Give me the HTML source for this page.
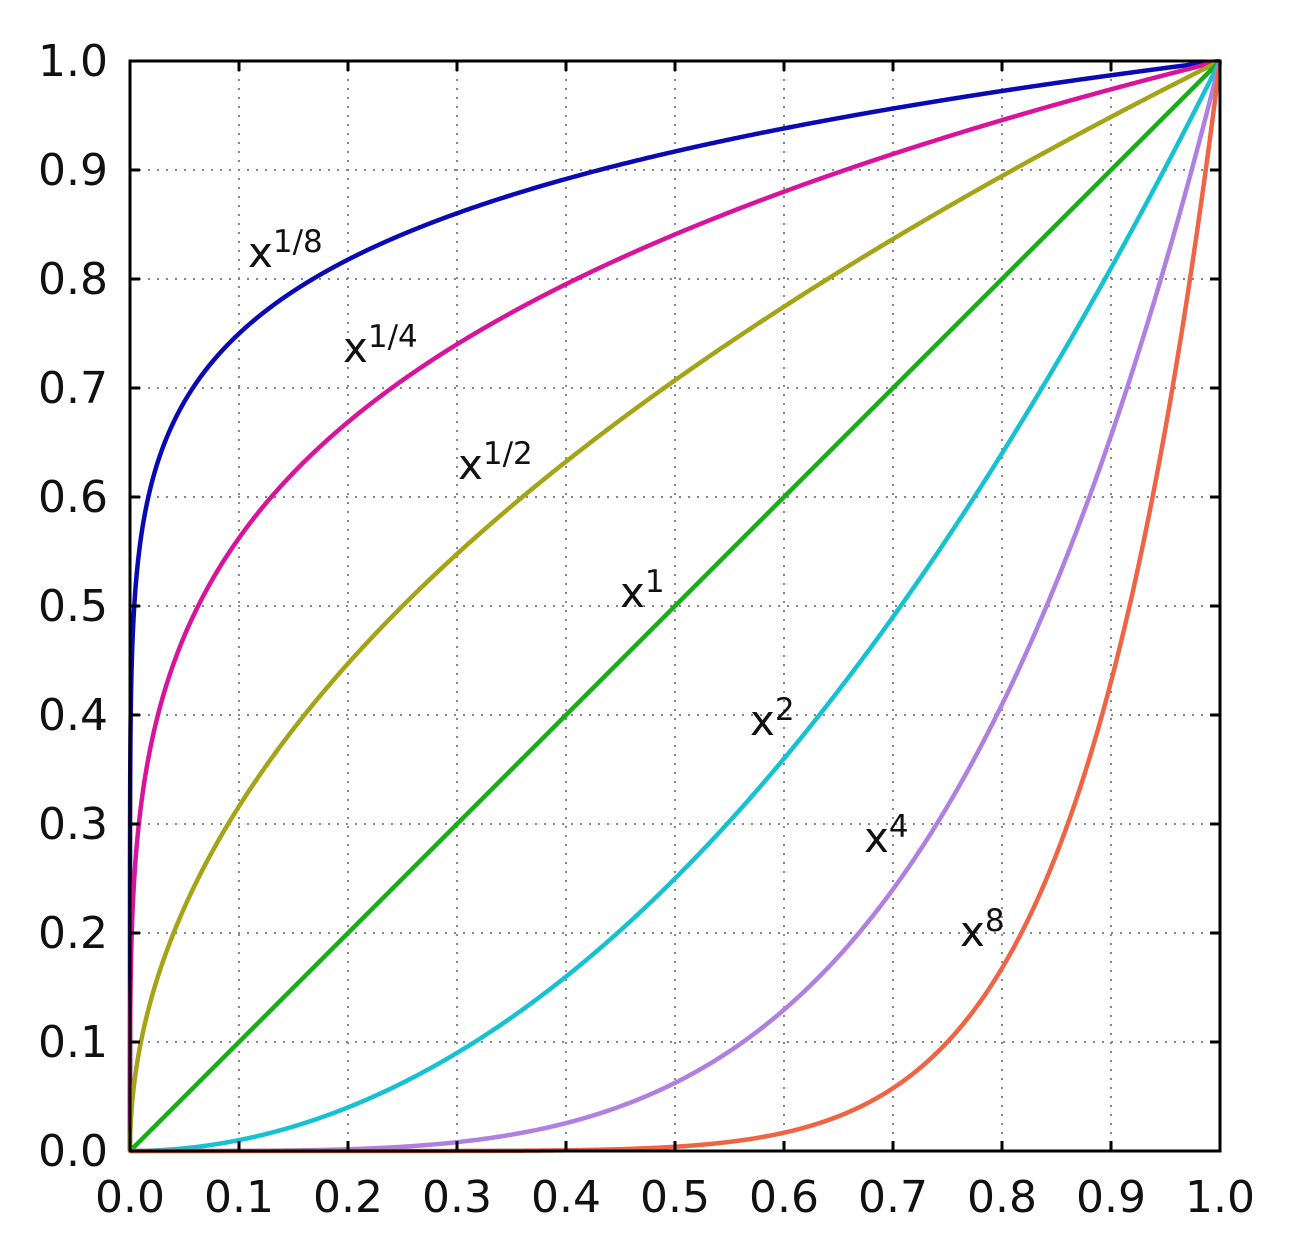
<!DOCTYPE html>
<html><head><meta charset="utf-8"><style>
html,body{margin:0;padding:0;background:#fff}
svg{display:block}
text{font-family:"DejaVu Sans","Liberation Sans",sans-serif;fill:#111}
</style></head><body>
<svg id="s" width="1290" height="1234" viewBox="0 0 1290 1234" xmlns="http://www.w3.org/2000/svg">
<g id="grid" stroke="#888" stroke-width="2" stroke-dasharray="2,7"></g>
<g id="curves" fill="none" stroke-width="4.5"></g>
<rect x="130" y="61" width="1090" height="1090" fill="none" stroke="#000" stroke-width="3"/>
<g id="ticks" stroke="#000" stroke-width="3"></g>
<g id="labels" font-size="44"></g>
<g font-size="42">
<text x="248" y="267">x<tspan font-size="31" dy="-15">1/8</tspan></text>
<text x="343" y="362">x<tspan font-size="31" dy="-15">1/4</tspan></text>
<text x="458" y="479">x<tspan font-size="31" dy="-15">1/2</tspan></text>
<text x="620" y="607">x<tspan font-size="31" dy="-15">1</tspan></text>
<text x="750" y="735">x<tspan font-size="31" dy="-15">2</tspan></text>
<text x="864" y="852">x<tspan font-size="31" dy="-15">4</tspan></text>
<text x="960" y="946">x<tspan font-size="31" dy="-15">8</tspan></text>
</g>
</svg>
<script>
var L=130,T=61,W=1090,ns="http://www.w3.org/2000/svg";
function el(p,n,a,t){var e=document.createElementNS(ns,n);for(var k in a)e.setAttribute(k,a[k]);if(t!=null)e.textContent=t;document.getElementById(p).appendChild(e);}
for(var i=1;i<10;i++){var v=L+W*i/10,h=T+W*i/10;
el("grid","line",{x1:v,y1:T,x2:v,y2:T+W});el("grid","line",{x1:L,y1:h,x2:L+W,y2:h});
el("ticks","line",{x1:v,y1:T+W,x2:v,y2:T+W-10});el("ticks","line",{x1:v,y1:T,x2:v,y2:T+10});
el("ticks","line",{x1:L,y1:h,x2:L+10,y2:h});el("ticks","line",{x1:L+W,y1:h,x2:L+W-10,y2:h});}
for(var i=0;i<=10;i++){var s=(i/10).toFixed(1);
el("labels","text",{x:108,y:T+W-W*i/10+15,"text-anchor":"end"},s);
el("labels","text",{x:L+W*i/10,y:1212,"text-anchor":"middle"},s);}
var P=[[1/8,"#0a0ab4"],[1/4,"#d8149c"],[1/2,"#a4a416"],[1,"#12b012"],[2,"#16c2d2"],[4,"#b080e0"],[8,"#ee6444"]];
P.forEach(function(q){var d="";for(var j=0;j<=2000;j++){var x=Math.pow(j/2000,q[0]<1?3:1);var y=Math.pow(x,q[0]);d+=(j?"L":"M")+(L+W*x).toFixed(2)+","+(T+W-W*y).toFixed(2);}
el("curves","path",{d:d,stroke:q[1]});});
</script>
</body></html>
